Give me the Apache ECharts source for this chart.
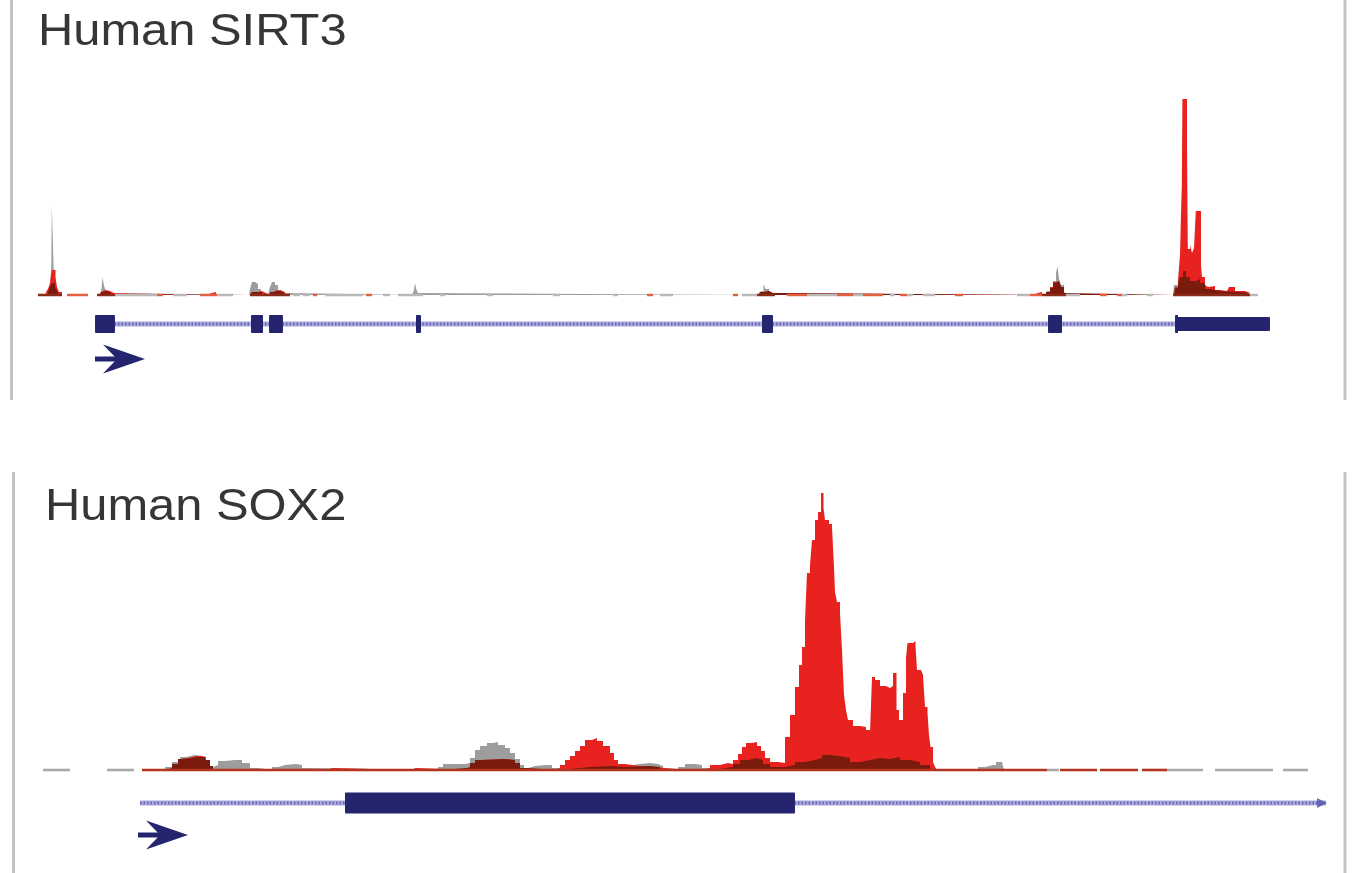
<!DOCTYPE html>
<html><head><meta charset="utf-8">
<script src="https://cdn.jsdelivr.net/npm/echarts/dist/echarts.min.js"></script>
<style>html,body{margin:0;padding:0;background:#fff}#c{width:1352px;height:873px}</style>
</head><body><div id="c"></div>
<script>
// ---------------- DATA (track position units, coverage units) ----------------
const trackTitles = ['Human SIRT3', 'Human SOX2'];

// SIRT3 coverage: [position, value] breakpoints (value holds until next position)
const sirt3Gray = [
 [40,0],[50,4],[51.3,30],[51.8,90],[53.6,28],[55,8],[57,0],
 [100,0],[101.5,6],[102.5,18],[104,9],[106,4],[109,2],[112,0],
 [249,0],[250,6],[252,13],[255,11],[258,6],[261,2],[264,0],[268,2],[270,8],[272,13],[275,10],[278,5],[282,2],[285,0],
 [412,0],[414,5],[415,12],[416.5,5],[418,2],[420,0],
 [758,0],[761,4],[763.5,11],[765.5,6],[769,3],[772,0],
 [1045,0],[1047,4],[1050,8],[1053,14],[1056,22],[1057.5,29],[1059,16],[1061,10],[1064,3],[1066,0],
 [1173,0],[1174,10],[1178,12],[1180,22],[1183,28],[1186,20],[1190,15],[1196,18],[1200,12],[1205,6],[1210,4],[1220,3],[1240,2],[1250,0]
];
const sirt3Red = [
 [40,0],[46,3],[48,6],[50,12],[51,20],[52,25],[55.5,18],[57,8],[59,3],[62,0],
 [99,0],[101,3],[103,5],[106,4],[110,2],[114,0],
 [200,0],[205,2],[212,3],[216,0],
 [250,0],[252,3],[258,4],[262,2],[266,0],[270,3],[273,5],[278,3],[285,0],
 [757,0],[760,3],[764,4],[769,2],[773,0],
 [1028,0],[1032,2],[1038,3],[1042,0],
 [1044,0],[1046,3],[1050,8],[1053,13],[1056,14],[1059,12],[1061,8],[1064,3],[1066,0],
 [1174,0],[1175,8],[1178,15],[1180,40],[1181,82],[1181.8,108],[1182.4,196],[1187,150],[1187.8,46],[1190,50],[1192,42],[1194,47],[1195.8,84],[1201,30],[1202,18],[1205,10],[1207,8],[1208,9],[1215,5],[1220,4],[1227,6],[1229,8],[1235,4],[1245,2],[1250,0]
];
const sirt3Dark = [
 [40,0],[48,3],[50,8],[52,12],[55,8],[57,4],[59,0],
 [100,0],[101.5,3],[103,4],[106,3],[109,1],[112,0],
 [250,0],[252,3],[258,3],[262,0],[270,3],[273,4],[278,3],[284,0],
 [758,0],[760,3],[764,4],[769,2],[772,0],
 [1045,0],[1047,3],[1050,7],[1053,12],[1056,14],[1059,12],[1061,8],[1064,2],[1066,0],
 [1174,0],[1175,7],[1178,11],[1180,18],[1183,24],[1186,18],[1190,14],[1196,16],[1200,12],[1205,6],[1210,4],[1220,3],[1240,2],[1250,0]
];
// zero-coverage stretches drawn at baseline: [start, end, kind]
const sirt3Base = [
 [38,62,'d'],[67,88,'r'],[97,115,'d'],[115,157,'g'],[157,163,'r'],[173,187,'g'],[200,217,'r'],[217,233,'g'],
 [250,290,'d'],[293,300,'g'],[303,310,'g'],[313,317,'r'],[325,363,'g'],[366,372,'r'],[383,390,'g'],[398,423,'g'],
 [440,445,'g'],[487,493,'g'],[553,560,'g'],[613,618,'g'],[647,653,'r'],[660,673,'g'],[733,738,'r'],[742,757,'g'],
 [757,775,'d'],[787,807,'r'],[807,837,'g'],[837,853,'r'],[853,863,'g'],[863,883,'r'],[890,895,'g'],[900,907,'r'],
 [907,913,'g'],[923,935,'g'],[955,963,'r'],[1017,1030,'g'],[1030,1042,'r'],[1042,1066,'d'],[1066,1080,'g'],
 [1100,1107,'r'],[1117,1122,'r'],[1122,1127,'g'],[1147,1153,'g'],[1173,1250,'d'],[1250,1258,'g']
];
const sirt3Span = [97, 1270];
const sirt3Exons = [[95,115],[251,263],[269,283],[416,421],[762,773],[1048,1062],[1175,1178]];
const sirt3Utr = [[1175,1270]];

// SOX2 coverage
const sox2Red = [
 [143,0],[172,3],[178,8],[183,12],[188,14],[196,14],[202,13],[206,9],[210,3],[213,0],
 [325,2],[333,0],[410,2],[416,0],
 [470,4],[475,10],[480,11],[505,10],[515,6],[520,2],[525,0],
 [555,2],[560,5],[565,10],[570,14],[575,19],[580,24],[585,30],[592,32],[597,29],[603,24],[610,17],[614,10],[618,6],[625,4],[640,3],[655,2],[665,0],
 [690,1],[705,2],[710,5],[720,7],[728,6],[733,10],[738,16],[742,23],[746,27],[752,28],[757,24],[761,19],[765,12],[770,8],[778,7],
 [785,33],[790,55],[795,83],[799,105],[802,123],[805,150],[807,197],[810,205],[812,230],[815,250],[818,258],[821,277],[823.5,262],[825,250],[829,246],[832,243],[834,203],[835,178],[837,168],[840,157],[842,120],[844,75],[846,60],[848,50],[853,44],[860,43],[866,40],[870,37],
 [872,93],[875,90],[880,84],[886,82],[890,84],[893,97],[896.5,60],[899,50],[903,77],[906,112],[907.5,127],[913,129],[915.5,124],[917,100],[921,98],[923,95],[925,63],[927.5,57],[929,35],[930.5,23],[933,8],[935,3],[937,0]
];
const sox2Dark = [
 [143,0],[165,2],[172,6],[178,11],[185,13],[198,13],[205,10],[210,4],[213,0],
 [440,2],[467,3],[470,7],[475,10],[482,11],[505,10],[515,7],[520,2],[525,0],
 [555,1],[570,3],[590,4],[610,3],[625,4],[650,3],[660,0],
 [700,1],[720,3],[733,6],[740,10],[748,12],[757,10],[763,6],[770,3],[785,5],[795,8],[805,10],[815,12],[822,15],[830,14],[840,12],[850,8],[860,10],[870,12],[880,11],[890,13],[900,10],[910,8],[920,5],[930,0]
];
const sox2Gray = [
 [143,0],[165,3],[172,8],[180,13],[186,15],[195,14],[203,10],[208,3],[213,5],[218,9],[225,10],[235,10],[242,7],[250,2],[258,0],
 [272,3],[278,5],[285,6],[296,5],[302,2],[305,0],
 [438,3],[443,6],[465,7],[470,12],[475,20],[480,24],[487,27],[493,28],[498,25],[505,22],[510,17],[515,11],[520,5],[524,2],[528,4],[535,5],[546,5],[552,2],[556,0],
 [620,4],[628,6],[640,7],[650,6],[658,4],[663,0],
 [678,3],[685,6],[695,5],[702,2],[706,0],
 [720,3],[735,6],[748,12],[757,10],[765,6],[775,3],[790,6],[800,8],[815,12],[830,12],[850,8],[870,10],[890,12],[910,8],[925,4],[935,0],
 [978,3],[985,5],[993,5],[996,8],[1002,6],[1004,0]
];
const sox2Base = [
 [43,70,'g'],[107,134,'g'],[142,1047,'r'],[1047,1059,'g'],[1060,1097,'r'],[1100,1138,'r'],[1142,1167,'r'],
 [1167,1203,'g'],[1215,1273,'g'],[1283,1308,'g']
];
const sox2Span = [140, 1326];
const sox2Exons = [[345,795]];

// ---------------- STYLE ----------------
const C = {red:'#e8231f', dark:'#7a1b0e', gray:'#9d9d9d', navy:'#24246f',
  intron:'#8e8ed2', intronTick:'#5a5aae', frame:'#c3c3c3', title:'#363636'};
const baseCol1 = {r:'#e2603f', g:'#b9b9b9', d:'#8a2c18'};
const baseCol2 = {r:'#b3351f', g:'#a9a9a9', d:'#7a1b0e'};
const W = 1352;

const grids = [
  {left:0, right:0, top:95, height:200},   // SIRT3 coverage
  {left:0, right:0, top:300, height:80},   // SIRT3 gene
  {left:0, right:0, top:470, height:300},  // SOX2 coverage
  {left:0, right:0, top:780, height:80}    // SOX2 gene
];
const xAxes = grids.map((g,i)=>({type:'value', gridIndex:i, min:0, max:W, show:false}));
const yAxes = [
  {type:'value', gridIndex:0, min:0, max:200, show:false},
  {type:'value', gridIndex:1, min:0, max:80, inverse:true, show:false},
  {type:'value', gridIndex:2, min:0, max:300, show:false},
  {type:'value', gridIndex:3, min:0, max:80, inverse:true, show:false}
];

function cov(data, color, ai, z){
  return {type:'line', xAxisIndex:ai, yAxisIndex:ai, data:data, step:'end', symbol:'none', showSymbol:false,
    lineStyle:{width:0.8, color:color, opacity:0}, areaStyle:{color:color, opacity:1}, z:z, silent:true};
}
function base(segs, cols, ai, lw){
  return {type:'custom', xAxisIndex:ai, yAxisIndex:ai, z:6, silent:true,
    data: segs.map(s=>[s[0],0,s[1]]),
    renderItem:function(p, api){
      const s = segs[p.dataIndex];
      const a = api.coord([s[0],0]), b = api.coord([s[1],0]);
      return {type:'line', shape:{x1:a[0],y1:a[1],x2:b[0],y2:b[1]}, style:{stroke:cols[s[2]], lineWidth:lw}};
    }};
}
function intron(span, ai, row, endArrow){
  return {type:'custom', xAxisIndex:ai, yAxisIndex:ai, z:3, silent:true,
    data:[[span[0], row, span[1]]],
    renderItem:function(p, api){
      const a = api.coord([span[0],row]), b = api.coord([span[1],row]);
      const ch = [
        {type:'line', shape:{x1:a[0],y1:a[1],x2:b[0],y2:b[1]}, style:{stroke:C.intron, lineWidth:5, opacity:0.75}},
        {type:'line', shape:{x1:a[0],y1:a[1],x2:b[0],y2:b[1]}, style:{stroke:C.intronTick, lineWidth:3, lineDash:[1.5,2], opacity:0.8}}
      ];
      if(endArrow){
        ch.push({type:'polygon', shape:{points:[[b[0]-9,b[1]-5],[b[0]+1,b[1]],[b[0]-9,b[1]+5]]}, style:{fill:C.intronTick, opacity:0.85}});
      }
      return {type:'group', children:ch};
    }};
}
function exons(list, ai, row, h){
  return {type:'custom', xAxisIndex:ai, yAxisIndex:ai, z:4, silent:true,
    data: list.map(e=>[e[0], row, e[1]]),
    renderItem:function(p, api){
      const e = list[p.dataIndex];
      const a = api.coord([e[0],row]), b = api.coord([e[1],row]);
      return {type:'rect', shape:{x:a[0], y:a[1]-h/2, width:b[0]-a[0], height:h, r:1}, style:{fill:C.navy}};
    }};
}
function strandArrow(start, ai, row){
  return {type:'custom', xAxisIndex:ai, yAxisIndex:ai, z:4, silent:true,
    data:[[start,row]],
    renderItem:function(p, api){
      const a = api.coord([start,row]);
      const x=a[0], y=a[1];
      return {type:'group', children:[
        {type:'rect', shape:{x:x-2, y:y-2.5, width:26, height:5}, style:{fill:C.navy}},
        {type:'polygon', shape:{points:[[x+6,y-14.5],[x+48,y],[x+6,y+14.5],[x+20,y]]}, style:{fill:C.navy}}
      ]};
    }};
}

const series = [
  cov(sirt3Gray, C.gray, 0, 2), cov(sirt3Red, C.red, 0, 3), cov(sirt3Dark, C.dark, 0, 4),
  base(sirt3Base, baseCol1, 0, 2.5),
  intron(sirt3Span, 1, 24, false), exons(sirt3Exons, 1, 24, 18), exons(sirt3Utr, 1, 24, 14), strandArrow(sirt3Span[0], 1, 59),
  cov(sox2Gray, C.gray, 2, 2), cov(sox2Red, C.red, 2, 3), cov(sox2Dark, C.dark, 2, 4),
  base(sox2Base, baseCol2, 2, 2.6),
  intron(sox2Span, 3, 23, true), exons(sox2Exons, 3, 23, 21), strandArrow(sox2Span[0], 3, 55)
];

const titleFont = {fontSize:44, fontFamily:'"Liberation Sans", Arial, Helvetica, sans-serif', fill:C.title};
const graphic = [
  {type:'line', shape:{x1:11.5,y1:0,x2:11.5,y2:400}, style:{stroke:C.frame, lineWidth:3}},
  {type:'line', shape:{x1:1345,y1:0,x2:1345,y2:400}, style:{stroke:C.frame, lineWidth:3}},
  {type:'line', shape:{x1:13.5,y1:472,x2:13.5,y2:873}, style:{stroke:C.frame, lineWidth:3}},
  {type:'line', shape:{x1:1345,y1:472,x2:1345,y2:873}, style:{stroke:C.frame, lineWidth:3}},
  {type:'text', x:38, y:33, scaleX:1.11, style:Object.assign({text:trackTitles[0], x:0, y:0, verticalAlign:'middle', textVerticalAlign:'middle'}, titleFont)},
  {type:'text', x:45, y:508, scaleX:1.11, style:Object.assign({text:trackTitles[1], x:0, y:0, verticalAlign:'middle', textVerticalAlign:'middle'}, titleFont)}
];

const chart = echarts.init(document.getElementById('c'));
chart.setOption({animation:false, backgroundColor:'#fff', grid:grids, xAxis:xAxes, yAxis:yAxes, series:series, graphic:graphic});
</script></body></html>
